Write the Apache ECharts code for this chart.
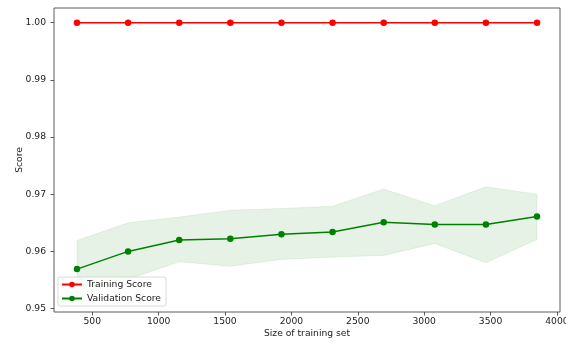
<!DOCTYPE html>
<html>
<head>
<meta charset="utf-8">
<script src="https://cdn.jsdelivr.net/npm/echarts@6/dist/echarts.min.js"></script>
<style>html,body{margin:0;padding:0;background:#fff;}#c{width:566px;height:347px;}</style>
</head>
<body>
<div id="c"></div>
<script>
var trainSizes = [385, 770, 1155, 1540, 1925, 2310, 2695, 3080, 3465, 3850];
var trainScore = [1.0, 1.0, 1.0, 1.0, 1.0, 1.0, 1.0, 1.0, 1.0, 1.0];
var valScore = [0.9569, 0.9600, 0.9620, 0.9622, 0.9630, 0.9634, 0.9651, 0.9647, 0.9647, 0.9661];
var valUpper = [0.9619, 0.9650, 0.9660, 0.9672, 0.9675, 0.9679, 0.9709, 0.9680, 0.9713, 0.9700];
var valLower = [0.9517, 0.9551, 0.9582, 0.9574, 0.9586, 0.9590, 0.9593, 0.9614, 0.9580, 0.9621];
var xTicks = [500, 1000, 1500, 2000, 2500, 3000, 3500, 4000];
var yTicks = [0.95, 0.96, 0.97, 0.98, 0.99, 1.00];

var font = 'DejaVu Sans';
var fs = 9.2;
var chart = echarts.init(document.getElementById('c'), null, {renderer: 'canvas'});

function pairs(xs, ys) { return xs.map(function (x, i) { return [x, ys[i]]; }); }

var bandData = trainSizes.map(function (x, i) { return [x, valLower[i], valUpper[i]]; });

chart.setOption({
  animation: false,
  backgroundColor: '#fff',
  textStyle: {fontFamily: font},
  grid: {left: 54, right: 6, top: 8, bottom: 35, outerBoundsMode: 'none', containLabel: false,
    show: true, borderColor: '#333', borderWidth: 0.8, backgroundColor: 'transparent'},
  xAxis: {
    type: 'value', min: 212, max: 4023,
    name: 'Size of training set', nameLocation: 'middle', nameGap: 17, nameMoveOverlap: false,
    nameTextStyle: {fontSize: fs, color: '#222', fontFamily: font},
    axisLine: {show: false},
    splitLine: {show: false},
    axisTick: {show: true, length: 3.5, customValues: xTicks, lineStyle: {color: '#333', width: 0.8}},
    axisLabel: {customValues: xTicks, fontSize: fs, color: '#222', margin: 5, fontFamily: font,
      hideOverlap: false, showMaxLabel: true,
      formatter: function (v) { return String(v); }}
  },
  yAxis: {
    type: 'value', min: 0.9494, max: 1.00257,
    name: 'Score', nameLocation: 'middle', nameGap: 30, nameRotate: 90, nameMoveOverlap: false,
    nameTextStyle: {fontSize: fs, color: '#222', fontFamily: font},
    axisLine: {show: false},
    splitLine: {show: false},
    axisTick: {show: true, length: 3.5, customValues: yTicks, lineStyle: {color: '#333', width: 0.8}},
    axisLabel: {customValues: yTicks, fontSize: fs, color: '#222', margin: 8, fontFamily: font,
      formatter: function (v) { return v.toFixed(2); }}
  },
  legend: {
    left: 58, top: 277, orient: 'vertical',
    data: ['Training Score', 'Validation Score'],
    itemWidth: 20, itemHeight: 7, itemGap: 5,
    padding: [3, 5, 3, 3],
    borderColor: '#d0d0d0', borderWidth: 0.8, borderRadius: 2,
    backgroundColor: 'rgba(255,255,255,0.8)',
    textStyle: {fontSize: fs, color: '#222', fontFamily: font}
  },
  series: [
    {
      type: 'custom', name: 'band', silent: true, z: 1,
      data: bandData,
      encode: {x: 0, y: [1, 2]},
      renderItem: function (params, api) {
        if (params.dataIndex !== 0) return null;
        var pts = [];
        for (var i = 0; i < bandData.length; i++) pts.push(api.coord([bandData[i][0], bandData[i][2]]));
        for (var j = bandData.length - 1; j >= 0; j--) pts.push(api.coord([bandData[j][0], bandData[j][1]]));
        return {type: 'polygon', shape: {points: pts}, style: {fill: 'rgba(0,128,0,0.1)', stroke: 'rgba(0,128,0,0.1)', lineWidth: 0.8}};
      }
    },
    {
      type: 'line', name: 'Training Score', data: pairs(trainSizes, trainScore),
      color: '#ff0000', symbol: 'circle', symbolSize: 6.5, showAllSymbol: true,
      lineStyle: {width: 1.5, color: '#ff0000'}, itemStyle: {color: '#ff0000'}, z: 3
    },
    {
      type: 'line', name: 'Validation Score', data: pairs(trainSizes, valScore),
      color: '#008000', symbol: 'circle', symbolSize: 6.5, showAllSymbol: true,
      lineStyle: {width: 1.5, color: '#008000'}, itemStyle: {color: '#008000'}, z: 3
    }
  ]
});
</script>
</body>
</html>
